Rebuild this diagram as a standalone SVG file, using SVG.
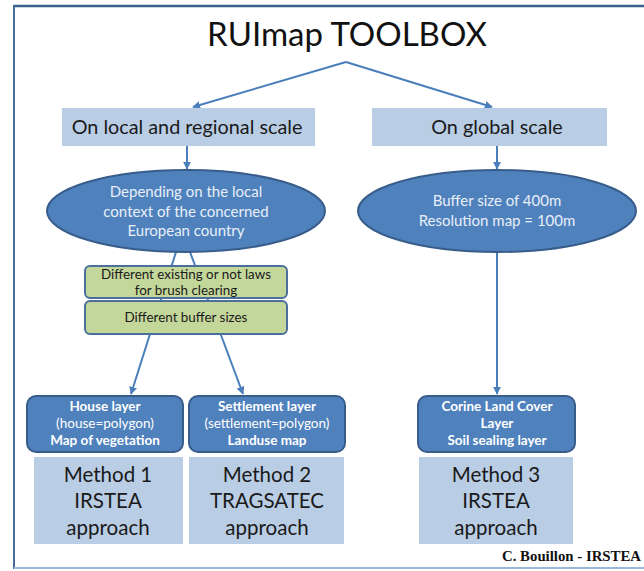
<svg xmlns="http://www.w3.org/2000/svg" width="644" height="571" viewBox="0 0 644 571">
<defs>
<style>
.t{font-family:Lato,"Open Sans","Liberation Sans",sans-serif;text-anchor:middle}
.lb{fill:#b9cde5}
.dk{fill:#4f81bd;stroke:#385d8a;stroke-width:2}
.gr{fill:#c4d79b;stroke:#4a6f9c;stroke-width:2}
.ar{stroke:#4a7ebb;stroke-width:2;fill:none;marker-end:url(#ah)}
.w{fill:#ffffff;font-size:13.5px}
.b{font-weight:bold}
.m{fill:#1a1a1a;font-size:20.5px}
.e{fill:#e8eff8;font-size:15px}
.g{fill:#1a1a1a;font-size:13.4px}
</style>
<marker id="ah" viewBox="0 0 10 10" refX="9" refY="5" markerWidth="4" markerHeight="4" orient="auto" markerUnits="strokeWidth">
<path d="M0,0 L10,5 L0,10 z" fill="#4a7ebb"/>
</marker>
</defs>
<rect width="644" height="571" fill="#ffffff"/>
<g id="frame">
<line x1="14" y1="6" x2="644" y2="6" stroke="#3b5f8e" stroke-width="2.5"/>
<line x1="14" y1="5" x2="14" y2="569" stroke="#4a6b9a" stroke-width="2"/>
<line x1="14" y1="568" x2="644" y2="568" stroke="#9bb7d9" stroke-width="2"/>
</g>
<g id="title"><text class="t" x="347" y="46" font-size="33" fill="#111111">RUImap TOOLBOX</text></g>
<g id="connectors">
<line class="ar" x1="346" y1="62" x2="193" y2="107"/>
<line class="ar" x1="346" y1="62" x2="492" y2="107"/>
<line class="ar" x1="187" y1="146" x2="187" y2="169"/>
<line class="ar" x1="497" y1="146" x2="497" y2="169"/>
<line class="ar" x1="176" y1="252" x2="131" y2="394"/>
<line class="ar" x1="190" y1="252" x2="243" y2="394"/>
<line class="ar" x1="497" y1="252" x2="497" y2="394"/>
</g>
<g id="local"><rect class="lb" x="62" y="108" width="253" height="38"/><text class="t" x="187" y="134" font-size="19.8" fill="#1a1a1a">On local and regional scale</text></g>
<g id="global"><rect class="lb" x="372" y="108" width="235" height="38"/><text class="t" x="497" y="134" font-size="19.8" fill="#1a1a1a">On global scale</text></g>
<g id="ellipse1"><ellipse class="dk" cx="186" cy="211" rx="139" ry="41"/>
<text class="t e" x="186" y="197">Depending on the local</text>
<text class="t e" x="186" y="217">context of the concerned</text>
<text class="t e" x="186" y="236">European country</text></g>
<g id="ellipse2"><ellipse class="dk" cx="497" cy="211" rx="139" ry="41"/>
<text class="t e" x="497" y="206">Buffer size of 400m</text>
<text class="t e" x="497" y="226">Resolution map = 100m</text></g>
<g id="laws"><rect class="gr" x="85" y="266" width="202" height="32" rx="5"/>
<text class="t g" x="186" y="279">Different existing or not laws</text>
<text class="t g" x="186" y="295">for brush clearing</text></g>
<g id="buffers"><rect class="gr" x="85" y="301" width="202" height="33" rx="5"/>
<text class="t g" x="186" y="322">Different buffer sizes</text></g>
<g id="house"><rect class="dk" x="27" y="396" width="156" height="56" rx="9"/>
<text class="t w b" x="105" y="411">House layer</text>
<text class="t w" x="105" y="428">(house=polygon)</text>
<text class="t w b" x="105" y="445">Map of vegetation</text></g>
<g id="settlement"><rect class="dk" x="189" y="396" width="156" height="56" rx="9"/>
<text class="t w b" x="267" y="411">Settlement layer</text>
<text class="t w" x="267" y="428">(settlement=polygon)</text>
<text class="t w b" x="267" y="445">Landuse map</text></g>
<g id="corine"><rect class="dk" x="418" y="396" width="157" height="56" rx="9"/>
<text class="t w b" x="497" y="411">Corine Land Cover</text>
<text class="t w b" x="497" y="428">Layer</text>
<text class="t w b" x="497" y="445">Soil sealing layer</text></g>
<g id="method1"><rect class="lb" x="34" y="457" width="149" height="87"/>
<text class="t m" x="108" y="482">Method 1</text><text class="t m" x="108" y="508">IRSTEA</text><text class="t m" x="108" y="535">approach</text></g>
<g id="method2"><rect class="lb" x="189" y="457" width="155" height="87"/>
<text class="t m" x="267" y="482">Method 2</text><text class="t m" x="267" y="508">TRAGSATEC</text><text class="t m" x="267" y="535">approach</text></g>
<g id="method3"><rect class="lb" x="419" y="457" width="154" height="87"/>
<text class="t m" x="496" y="482">Method 3</text><text class="t m" x="496" y="508">IRSTEA</text><text class="t m" x="496" y="535">approach</text></g>
<g id="credit"><text x="641" y="561" text-anchor="end" font-family="'Liberation Serif','Times New Roman',serif" font-weight="bold" font-size="14.8" fill="#111111">C. Bouillon - IRSTEA</text></g>
</svg>
